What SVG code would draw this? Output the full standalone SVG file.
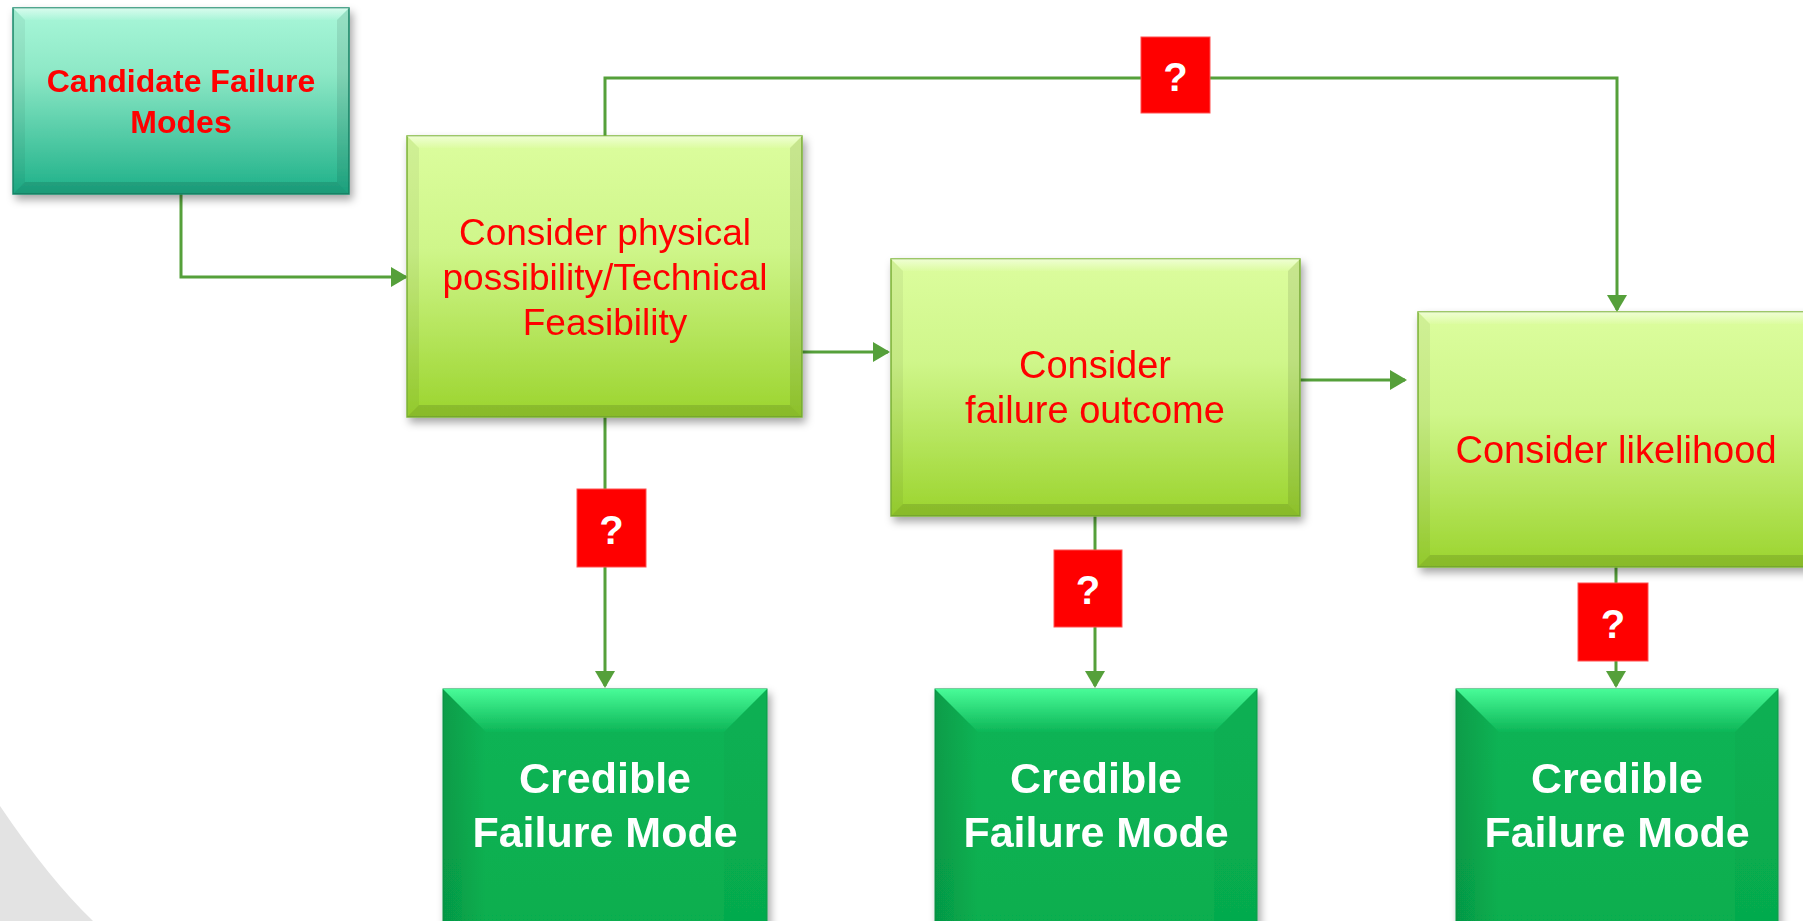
<svg xmlns="http://www.w3.org/2000/svg" width="1803" height="921" viewBox="0 0 1803 921">
<defs>
<linearGradient id="gTeal" x1="0" y1="0" x2="0" y2="1">
<stop offset="0" stop-color="#a9f7d9"/><stop offset="0.35" stop-color="#8de8c6"/><stop offset="1" stop-color="#1db088"/>
</linearGradient>
<linearGradient id="gLime" x1="0" y1="0" x2="0" y2="1">
<stop offset="0" stop-color="#dcfd9e"/><stop offset="0.4" stop-color="#cff68a"/><stop offset="1" stop-color="#9bd42e"/>
</linearGradient>
<linearGradient id="gDark" x1="0" y1="0" x2="0" y2="1">
<stop offset="0" stop-color="#0bb455"/><stop offset="1" stop-color="#06ad4e"/>
</linearGradient>
<linearGradient id="gTopBevel" x1="0" y1="0" x2="0" y2="1">
<stop offset="0" stop-color="#ffffff" stop-opacity="0.55"/><stop offset="1" stop-color="#ffffff" stop-opacity="0.05"/>
</linearGradient>
<linearGradient id="gTopBevelDark" x1="0" y1="0" x2="0" y2="1">
<stop offset="0" stop-color="#48fb98"/><stop offset="1" stop-color="#0db657"/>
</linearGradient>
<linearGradient id="gLeftDark" x1="0" y1="0" x2="1" y2="0">
<stop offset="0" stop-color="#000" stop-opacity="0.13"/><stop offset="1" stop-color="#000" stop-opacity="0"/>
</linearGradient>
<filter id="shadow" x="-10%" y="-10%" width="130%" height="130%">
<feDropShadow dx="3" dy="5" stdDeviation="4" flood-color="#000" flood-opacity="0.35"/>
</filter>
<marker id="arrow" viewBox="0 0 17 20" refX="15" refY="10" markerWidth="17" markerHeight="20" markerUnits="userSpaceOnUse" orient="auto">
<path d="M0,0 L17,10 L0,20 Z" fill="#55a03a"/>
</marker>
<style>
.conn{fill:none;stroke:#55a03a;stroke-width:3;marker-end:url(#arrow)}
.red{fill:#ff0000;font-family:"Liberation Sans",Arial,sans-serif;text-anchor:middle}
.redb{fill:#ff0000;font-family:"Liberation Sans",Arial,sans-serif;font-weight:bold;text-anchor:middle;font-size:32px}
.white{fill:#ffffff;font-family:"Liberation Sans",Arial,sans-serif;font-weight:bold;text-anchor:middle;font-size:43px}
.q{fill:#ffffff;font-family:"Liberation Sans",Arial,sans-serif;font-weight:bold;text-anchor:middle;font-size:40px}
.qbox{fill:#ff0000;stroke:#ff5050;stroke-width:1}
.bl{fill:#000;fill-opacity:0.05}
.br{fill:#000;fill-opacity:0.09}
.bb{fill:#000;fill-opacity:0.12}
.dl{fill:url(#gLeftDark)}
.dr{fill:#000;fill-opacity:0.02}
</style>
</defs>
<rect width="1803" height="921" fill="#ffffff"/>
<path d="M0,806 Q50,880 93,921 L0,921 Z" fill="#e3e3e3"/>

<g id="connectors">
<path class="conn" d="M181,194 V277 H406"/>
<path class="conn" d="M802,352 H888"/>
<path class="conn" d="M1300,380 H1405"/>
<path class="conn" d="M605,136 V78 H1617 V310"/>
<path class="conn" d="M605,417 V686"/>
<path class="conn" d="M1095,516 V686"/>
<path class="conn" d="M1616,567 V686"/>
</g>

<g id="candidate" filter="url(#shadow)">
<rect x="13" y="8" width="336" height="186" fill="url(#gTeal)" stroke="#1a8c6c" stroke-width="1.5"/>
<polygon points="13,8 349,8 337,20 25,20" fill="url(#gTopBevel)"/>
<polygon points="13,8 25,20 25,182 13,194" class="bl"/>
<polygon points="349,8 337,20 337,182 349,194" class="br"/>
<polygon points="13,194 25,182 337,182 349,194" class="bb"/>
<text class="redb" x="181" y="92">Candidate Failure</text>
<text class="redb" x="181" y="133">Modes</text>
</g>

<g id="physical" filter="url(#shadow)">
<rect x="407" y="136" width="395" height="281" fill="url(#gLime)" stroke="#80b83a" stroke-width="1.5"/>
<polygon points="407,136 802,136 790,148 419,148" fill="url(#gTopBevel)"/>
<polygon points="407,136 419,148 419,405 407,417" class="bl"/>
<polygon points="802,136 790,148 790,405 802,417" class="br"/>
<polygon points="407,417 419,405 790,405 802,417" class="bb"/>
<text class="red" font-size="37" x="605" y="245">Consider physical</text>
<text class="red" font-size="37" x="605" y="290">possibility/Technical</text>
<text class="red" font-size="37" x="605" y="335">Feasibility</text>
</g>

<g id="outcome" filter="url(#shadow)">
<rect x="891" y="259" width="409" height="257" fill="url(#gLime)" stroke="#80b83a" stroke-width="1.5"/>
<polygon points="891,259 1300,259 1288,271 903,271" fill="url(#gTopBevel)"/>
<polygon points="891,259 903,271 903,504 891,516" class="bl"/>
<polygon points="1300,259 1288,271 1288,504 1300,516" class="br"/>
<polygon points="891,516 903,504 1288,504 1300,516" class="bb"/>
<text class="red" font-size="38" x="1095" y="378">Consider</text>
<text class="red" font-size="38" x="1095" y="423">failure outcome</text>
</g>

<g id="likelihood" filter="url(#shadow)">
<rect x="1418" y="312" width="400" height="255" fill="url(#gLime)" stroke="#80b83a" stroke-width="1.5"/>
<polygon points="1418,312 1818,312 1806,324 1430,324" fill="url(#gTopBevel)"/>
<polygon points="1418,312 1430,324 1430,555 1418,567" class="bl"/>
<polygon points="1418,567 1430,555 1806,555 1818,567" class="bb"/>
<text class="red" font-size="38" x="1616" y="463">Consider likelihood</text>
</g>

<g id="credible1" filter="url(#shadow)">
<rect x="443" y="689" width="324" height="280" fill="url(#gDark)" stroke="#0a9a48" stroke-width="1"/>
<polygon points="443,689 486,732 486,926 443,969" class="dl"/>
<polygon points="767,689 724,732 724,926 767,969" class="dr"/>
<polygon points="443,689 767,689 724,732 486,732" fill="url(#gTopBevelDark)"/>
<text class="white" x="605" y="793">Credible</text>
<text class="white" x="605" y="847">Failure Mode</text>
</g>

<g id="credible2" filter="url(#shadow)">
<rect x="935" y="689" width="322" height="280" fill="url(#gDark)" stroke="#0a9a48" stroke-width="1"/>
<polygon points="935,689 978,732 978,926 935,969" class="dl"/>
<polygon points="1257,689 1214,732 1214,926 1257,969" class="dr"/>
<polygon points="935,689 1257,689 1214,732 978,732" fill="url(#gTopBevelDark)"/>
<text class="white" x="1096" y="793">Credible</text>
<text class="white" x="1096" y="847">Failure Mode</text>
</g>

<g id="credible3" filter="url(#shadow)">
<rect x="1456" y="689" width="322" height="280" fill="url(#gDark)" stroke="#0a9a48" stroke-width="1"/>
<polygon points="1456,689 1499,732 1499,926 1456,969" class="dl"/>
<polygon points="1778,689 1735,732 1735,926 1778,969" class="dr"/>
<polygon points="1456,689 1778,689 1735,732 1499,732" fill="url(#gTopBevelDark)"/>
<text class="white" x="1617" y="793">Credible</text>
<text class="white" x="1617" y="847">Failure Mode</text>
</g>

<g id="question-labels">
<rect class="qbox" x="1141" y="37" width="69" height="76"/>
<text class="q" x="1175.5" y="91">?</text>
<rect class="qbox" x="577" y="489" width="69" height="78"/>
<text class="q" x="611.5" y="544">?</text>
<rect class="qbox" x="1054" y="550" width="68" height="77"/>
<text class="q" x="1088" y="604">?</text>
<rect class="qbox" x="1578" y="583" width="70" height="78"/>
<text class="q" x="1613" y="638">?</text>
</g>
</svg>
